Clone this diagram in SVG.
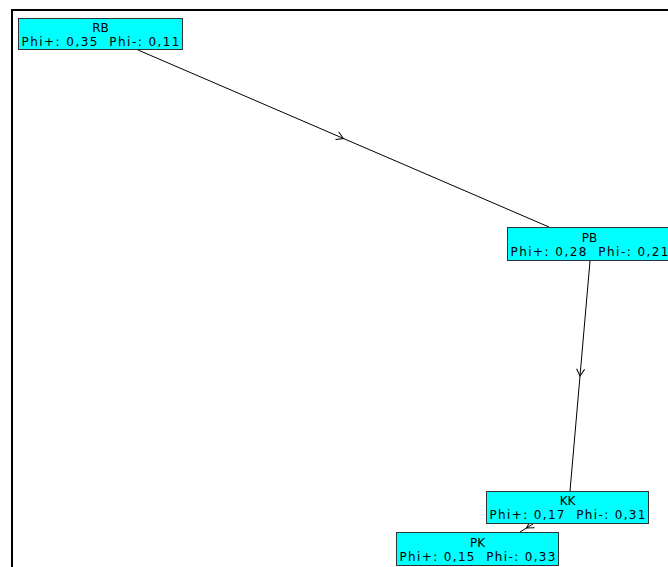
<svg xmlns="http://www.w3.org/2000/svg" width="668" height="567" viewBox="0 0 668 567">
<defs>
<style>
.box{fill:#00FFFF;stroke:#333;stroke-width:1}
.t{font-family:"DejaVu Sans",sans-serif;font-size:12px;fill:#000;text-anchor:middle;white-space:pre}
.e{fill:none;stroke:#000;stroke-width:1;marker-mid:url(#chev)}
</style>
<marker id="chev" viewBox="-10 -6 12 12" markerWidth="12" markerHeight="12" refX="0" refY="0" orient="auto" markerUnits="userSpaceOnUse">
<path d="M-7,-4 L0,0 L-7,4" fill="none" stroke="#000" stroke-width="1"/>
</marker>
</defs>
<rect width="668" height="567" fill="#fff"/>
<rect x="12" y="10" width="700" height="600" fill="none" stroke="#000" stroke-width="2"/>
<g id="connectors">
<path class="e" d="M138,50 L343.5,138.5 L549,227"/>
<path class="e" d="M590,261 L580,376 L570,491"/>
<path class="e" d="M533,524 L526.5,528 L520,532"/>
</g>
<g id="RB"><rect class="box" x="18.5" y="18.5" width="164" height="31"/><text class="t" x="100.5" y="32">RB</text><text class="t" x="100.5" y="46" textLength="158" lengthAdjust="spacing" xml:space="preserve">Phi+: 0,35  Phi-: 0,11</text></g>
<g id="PB"><rect class="box" x="507.5" y="227.5" width="164" height="33"/><text class="t" x="589.5" y="242">PB</text><text class="t" x="589.5" y="256" textLength="158" lengthAdjust="spacing" xml:space="preserve">Phi+: 0,28  Phi-: 0,21</text></g>
<g id="KK"><rect class="box" x="486.5" y="491.5" width="162" height="32"/><text class="t" x="567.5" y="505">KK</text><text class="t" x="567.5" y="519" textLength="156" lengthAdjust="spacing" xml:space="preserve">Phi+: 0,17  Phi-: 0,31</text></g>
<g id="PK"><rect class="box" x="396.5" y="532.5" width="162" height="33"/><text class="t" x="477.5" y="547">PK</text><text class="t" x="477.5" y="561" textLength="156" lengthAdjust="spacing" xml:space="preserve">Phi+: 0,15  Phi-: 0,33</text></g>
</svg>
